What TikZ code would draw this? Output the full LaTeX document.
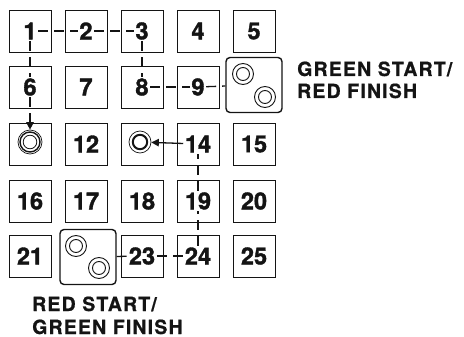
\documentclass[tikz,border=0pt]{standalone}
\usepackage{fontspec}
\setmainfont{TeX Gyre Heros}
\newfontfamily\digitfont[FakeBold=1.5]{TeX Gyre Heros Bold}
\newfontfamily\capfont[FakeBold=0.8, LetterSpace=6]{TeX Gyre Heros Bold}
\usetikzlibrary{arrows.meta}
\definecolor{ink}{RGB}{20,20,20}
\tikzset{
  cell/.style={draw=ink, line width=0.9pt, minimum width=42pt, minimum height=42pt, inner sep=0pt},
  bigcell/.style={draw=ink, line width=1.4pt, rounded corners=4pt, minimum width=56pt, minimum height=55pt, inner sep=0pt},
  digit/.style={inner sep=1.5pt, text=ink, font=\digitfont\fontsize{23.5}{23.5}\selectfont},
  ring/.style={draw=ink, circle, line width=0.9pt, minimum size=21pt, inner sep=0pt},
  dpath/.style={draw=ink, line width=1.3pt, dash pattern=on 10pt off 6pt},
  tip/.style={-{Triangle[length=7.5pt,width=7.5pt]}},
  caption/.style={anchor=base west, inner sep=0pt, text=ink, font=\capfont\fontsize{19.5}{22}\selectfont}
}
\begin{document}
\begin{tikzpicture}[x=1pt,y=-1pt]
\useasboundingbox (0,0) rectangle (464,337);
% ordinary numbered cells
\foreach \n/\x/\y in {1/30/31,2/86/31,3/142/31,4/198/31,5/254/31,
  6/30/87,7/86/87,8/142/87,9/198/87,
  12/86/144,14/198/144,15/254/144,
  16/30/201,17/86/201,18/142/201,19/198/201,20/254/201,
  21/30/256,23/142/256,24/198/256,25/254/256}{
  \node[cell] (b\n) at (\x,\y) {};
  \node[digit] (d\n) at (\x,\y) {\n};
}
% cell 11 with target
\node[cell] (b11) at (30,144) {};
\node[ring, minimum size=24pt, line width=0.7pt] (c11) at (30,142) {};
\draw[ink, line width=1.4pt] (c11.center) circle (10pt);
\draw[ink, line width=0.8pt] (c11.center) circle (6.8pt);
% cell 13 with target
\node[cell] (b13) at (142,144) {};
\node[ring, minimum size=22pt, line width=0.7pt] (c13) at (140,142) {};
\draw[ink, line width=2pt] (c13.center) circle (7.2pt);
% big cell 10: green start / red finish
\node[bigcell] (b10) at (254,85) {};
\node[ring] (c10a) at (243,74) {};
\node[ring] (c10b) at (265,97) {};
\draw[ink, line width=0.9pt] (c10a.center) circle (6.5pt) (c10b.center) circle (6.5pt);
% big cell 22: red start / green finish
\node[bigcell] (b22) at (88,257) {};
\node[ring] (c22a) at (76,246) {};
\node[ring] (c22b) at (99,268) {};
\draw[ink, line width=0.9pt] (c22a.center) circle (6.5pt) (c22b.center) circle (6.5pt);
% green route
\draw[dpath] (d9) -- (b10);
\draw[dpath] (d8) -- (d9);
\draw[dpath] (d3) -- (d8);
\draw[dpath] (d2) -- (d3);
\draw[dpath] (d1) -- (d2);
\draw[dpath] (d1) -- (d6);
\draw[dpath, tip] (d6) -- (c11);
% red route
\draw[dpath] (b22) -- (d23);
\draw[dpath] (d23) -- (d24);
\draw[dpath] (d24) -- (d19);
\draw[dpath] (d19) -- (d14);
\draw[draw=ink, line width=1.3pt, tip] (d14) -- (c13);
% captions
\node[caption] (lg1) at (297,76) {GREEN START/};
\node[caption] (lg2) at (297,98) {RED FINISH};
\node[caption] (lr1) at (32,311) {RED START/};
\node[caption] (lr2) at (32,334) {GREEN FINISH};
\end{tikzpicture}
\end{document}
